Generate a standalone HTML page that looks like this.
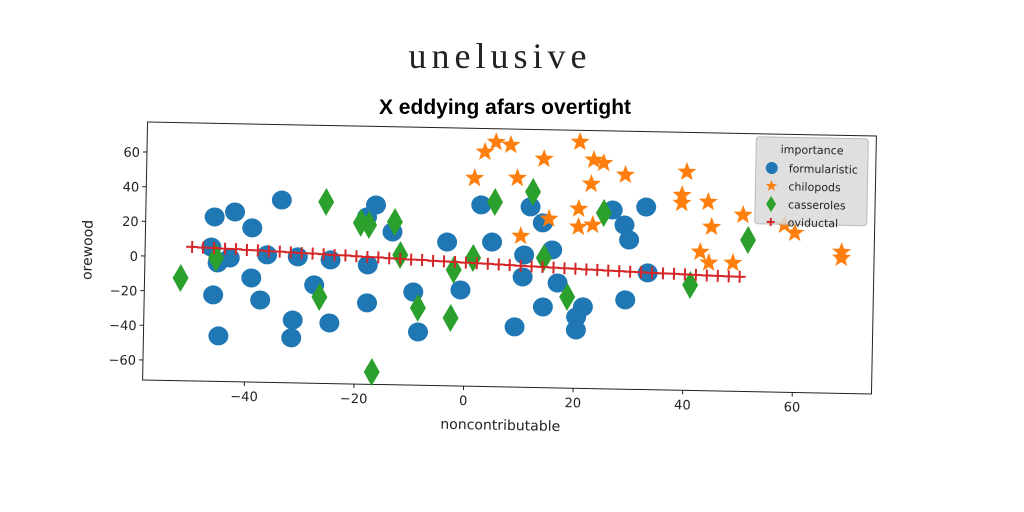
<!DOCTYPE html>
<html><head><meta charset="utf-8"><style>
body{margin:0;background:#fff;width:1024px;height:512px;overflow:hidden}
svg{display:block}
</style></head><body>
<svg id="chart" width="1024" height="512" xmlns="http://www.w3.org/2000/svg">
<text x="500" y="68" text-anchor="middle" font-family="Liberation Serif, serif" font-size="36" letter-spacing="5" fill="#222">unelusive</text>
<text x="505" y="114" text-anchor="middle" font-family="Liberation Sans Narrow, Liberation Sans, sans-serif" font-weight="bold" font-size="21" fill="#000">X eddying afars overtight</text>
<g id="axes" transform="rotate(1.1 509.5 258)"></g>
</svg>
<script>
const blueX=[-46.0,-42.3,-39.1,-33.8,-46.5,-45.3,-43.1,-36.3,-30.7,-24.7,-17.9,-16.6,-18.2,-13.5,-39.1,-46.0,-37.4,-27.6,-31.4,-31.6,-24.7,-44.9,-17.9,-9.5,-0.9,-8.5,-3.5,2.6,4.7,11.6,13.9,10.6,15.7,10.4,16.8,14.2,21.5,20.3,20.3,9.1,26.6,28.8,29.7,29.2,32.7,33.2];
const blueY=[23.3,26.4,17.4,33.8,5.9,-3.2,-0.2,2.0,1.2,-0.2,-2.7,32.0,25.0,16.6,-11.5,-21.7,-24.1,-14.8,-35.3,-45.6,-36.6,-45.3,-24.6,-17.8,-16.1,-40.8,11.4,33.2,11.9,32.6,23.5,4.8,8.0,-7.9,-11.0,-25.0,-24.5,-30.4,-37.9,-36.8,31.7,23.2,14.6,-20.0,33.8,-4.2];
const orangeX=[1.3,3.1,5.1,7.8,13.9,9.1,20.4,23.0,24.8,22.6,28.8,20.4,15.0,20.4,23.0,9.9,40.0,39.2,39.2,44.0,44.7,50.4,42.7,44.3,48.7,58.0,59.9,68.5,68.5];
const orangeY=[48.6,63.8,69.6,68.1,60.4,49.1,70.6,60.4,58.7,46.5,52.1,32.0,25.9,21.6,22.9,15.7,54.5,41.1,36.5,37.4,23.0,30.3,8.5,2.3,2.5,25.0,20.5,10.0,6.6];
const greenX=[-52.0,-45.6,-25.7,-26.6,-19.3,-17.8,-13.1,-12.0,-16.8,-8.6,-2.6,-2.2,1.3,5.1,12.0,14.2,18.6,25.0,41.0,51.4];
const greenY=[-12.3,-0.3,33.2,-21.7,21.5,20.4,22.4,3.4,-64.4,-26.9,-32.4,-4.6,2.5,35.0,41.3,3.3,-18.9,29.9,-10.7,15.9];
const redX=[-50,-48,-46,-44,-42,-40,-38,-36,-34,-32,-30,-28,-26,-24,-22,-20,-18,-16,-14,-12,-10,-8,-6,-4,-2,0,2,4,6,8,10,12,14,16,18,20,22,24,26,28,30,32,34,36,38,40,42,44,46,48,50];
const redY=[5.8,5.5,5.4,5.1,5.0,4.6,4.5,4.1,4.0,3.7,3.4,3.3,3.0,2.6,2.6,2.2,1.9,1.8,1.4,1.2,0.9,0.8,0.4,0.2,0.0,-0.3,-0.5,-0.7,-1.0,-1.2,-1.5,-1.7,-1.9,-2.2,-2.4,-2.6,-2.9,-3.0,-3.3,-3.5,-3.7,-3.9,-4.1,-4.3,-4.4,-4.6,-4.8,-5.0,-5.1,-5.3,-5.4];
const xTicks=[-40,-20,0,20,40,60];
const yTicks=[-60,-40,-20,0,20,40,60];
const legendLabels=["formularistic","chilopods","casseroles","oviductal"];

const NS="http://www.w3.org/2000/svg";
const L=145,R=874,T=129,B=387;
const sx=v=>466+5.48*v, sy=v=>263-1.733*v;
const g=document.getElementById('axes');
function mk(tag,attrs,parent){const e=document.createElementNS(NS,tag);for(const k in attrs)e.setAttribute(k,attrs[k]);(parent||g).appendChild(e);return e;}

const frame=mk('rect',{x:L,y:T,width:R-L,height:B-T,fill:'none',stroke:'#222','stroke-width':1});



xTicks.forEach(v=>{
  const t=mk('line',{x1:sx(v),x2:sx(v),y1:B,y2:B+4,stroke:'#222'});
  
  
  const lb=mk('text',{x:sx(v),y:B+19,'text-anchor':'middle','font-family':'DejaVu Sans, sans-serif','font-size':13,fill:'#222'});
  lb.textContent=(v<0?'\u2212'+(-v):v);
  
  
});
yTicks.forEach(v=>{
  const t=mk('line',{x1:L-4,x2:L,y1:sy(v),y2:sy(v),stroke:'#222'});
  
  
  const lb=mk('text',{x:L-7,y:sy(v)+5,'text-anchor':'end','font-family':'DejaVu Sans, sans-serif','font-size':13,fill:'#222'});
  lb.textContent=(v<0?'\u2212'+(-v):v);
  
  
});
const xl=mk('text',{x:(L+R)/2-6,y:B+43,'text-anchor':'middle','font-family':'DejaVu Sans, sans-serif','font-size':14,fill:'#222'});
xl.textContent='noncontributable';


const yl=mk('text',{x:0,y:0,'text-anchor':'middle','font-family':'DejaVu Sans, sans-serif','font-size':14,fill:'#222',transform:`translate(${L-53},${(T+B)/2}) rotate(-90)`});
yl.textContent='orewood';



function star(cx,cy,r,fill,parent){
  let p=[];for(let i=0;i<10;i++){const a=-Math.PI/2+i*Math.PI/5;const rr=i%2?r*0.42:r;p.push((cx+rr*Math.cos(a)).toFixed(1)+','+(cy+rr*Math.sin(a)).toFixed(1));}
  return mk('polygon',{points:p.join(' '),fill:fill},parent);
}
function diamond(cx,cy,w,h,fill,parent){
  return mk('polygon',{points:`${cx},${cy-h} ${cx+w},${cy} ${cx},${cy+h} ${cx-w},${cy}`,fill:fill},parent);
}
function plus(cx,cy,s,parent){
  const pg=mk('g',{stroke:'#d62728','stroke-width':2},parent);
  mk('line',{x1:cx-s,x2:cx+s,y1:cy,y2:cy},pg);mk('line',{x1:cx,x2:cx,y1:cy-s,y2:cy+s},pg);return pg;
}
blueX.forEach((v,i)=>{const e=mk('ellipse',{cx:sx(v),cy:sy(blueY[i]),rx:10,ry:9.5,fill:'#1f77b4'});
  
  });
orangeX.forEach((v,i)=>{const e=star(sx(v),sy(orangeY[i]),10,'#ff7f0e');
  
  });
greenX.forEach((v,i)=>{const e=diamond(sx(v),sy(greenY[i]),8,14,'#2ca02c');
  
  });
const path=redX.map((v,i)=>(i?'L':'M')+sx(v)+','+sy(redY[i])).join(' ');
const rl=mk('path',{d:path,stroke:'#d62728','stroke-width':1.5,fill:'none'});


redX.forEach((v,i)=>{const e=plus(sx(v),sy(redY[i]),6);
  
  });

const lg=mk('g',{});


mk('rect',{x:754,y:132,width:112,height:87,rx:3,fill:'#d9d9d9','fill-opacity':0.85,stroke:'#bbb'},lg);
const lt=mk('text',{x:810,y:148,'text-anchor':'middle','font-family':'DejaVu Sans, sans-serif','font-size':11,fill:'#222'},lg);
lt.textContent='importance';


legendLabels.forEach((s,i)=>{
  const y=163+i*18;
  const eg=mk('g',{},lg);
  
  
  if(i==0)mk('ellipse',{cx:770,cy:y,rx:6,ry:6,fill:'#1f77b4'},eg);
  if(i==1)star(770,y,6,'#ff7f0e',eg);
  if(i==2)diamond(770,y,5,8,'#2ca02c',eg);
  if(i==3)plus(770,y,4,eg);
  const t=mk('text',{x:787,y:y+4,'font-family':'DejaVu Sans, sans-serif','font-size':11,fill:'#222'},eg);
  t.textContent=s;
});
</script>
</body></html>
